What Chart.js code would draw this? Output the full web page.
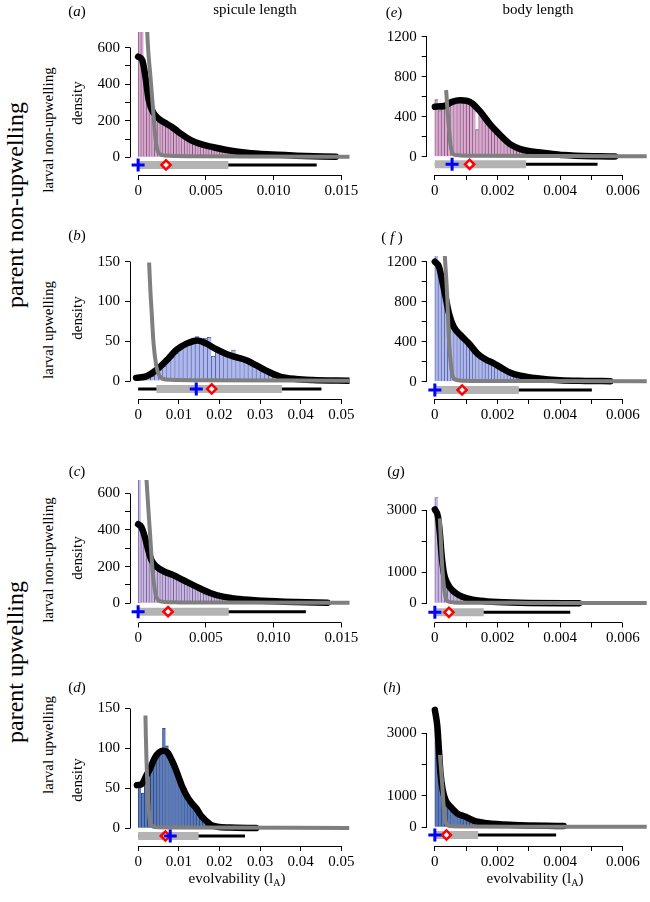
<!DOCTYPE html>
<html>
<head>
<meta charset="utf-8">
<script src="https://cdn.jsdelivr.net/npm/chart.js@4.4.1/dist/chart.umd.min.js"></script>
<style>
html,body{margin:0;padding:0;background:#fff}
body{width:650px;height:902px;position:relative;overflow:hidden;font-family:"Liberation Serif","Times New Roman",serif;color:#000}
canvas{position:absolute}
.t{position:absolute;white-space:nowrap;transform:translate(-50%,-50%);line-height:1;font-size:15px;z-index:2}
.r{transform:translate(-50%,-50%) rotate(-90deg)}
.big{font-size:24px}
sub{font-size:10px;vertical-align:-3px}
</style>
</head>
<body>
<div class="t" style="left:255px;top:9px">spicule length</div>
<div class="t" style="left:538px;top:9px">body length</div>

<div class="t" style="left:77px;top:11px">(<i>a</i>)</div>
<div class="t" style="left:77px;top:235px">(<i>b</i>)</div>
<div class="t" style="left:77px;top:471px">(<i>c</i>)</div>
<div class="t" style="left:77px;top:687px">(<i>d</i>)</div>
<div class="t" style="left:394px;top:12px">(<i>e</i>)</div>
<div class="t" style="left:392px;top:237px">( <i>f</i> )</div>
<div class="t" style="left:396px;top:471px">(<i>g</i>)</div>
<div class="t" style="left:392px;top:687px">(<i>h</i>)</div>

<div class="t r" style="left:77px;top:103px">density</div>
<div class="t r" style="left:77px;top:318px">density</div>
<div class="t r" style="left:77px;top:558px">density</div>
<div class="t r" style="left:77px;top:780px">density</div>

<div class="t r" style="left:48px;top:130px">larval non-upwelling</div>
<div class="t r" style="left:48px;top:330px">larval upwelling</div>
<div class="t r" style="left:48px;top:560px">larval non-upwelling</div>
<div class="t r" style="left:48px;top:745px">larval upwelling</div>

<div class="t r big" style="left:15px;top:205px">parent non-upwelling</div>
<div class="t r big" style="left:15px;top:662px">parent upwelling</div>

<div class="t" style="left:237px;top:879px">evolvability (l<sub>A</sub>)</div>
<div class="t" style="left:535px;top:879px">evolvability (l<sub>A</sub>)</div>

<canvas id="ca"></canvas><canvas id="cb"></canvas><canvas id="cc"></canvas><canvas id="cd"></canvas>
<canvas id="ce"></canvas><canvas id="cf"></canvas><canvas id="cg"></canvas><canvas id="ch"></canvas>

<script>
// ---------- tick values and labels ----------
const xTicksSpicA = [0, 0.005, 0.01, 0.015];
const xLabelsSpicA = ['0', '0.005', '0.010', '0.015'];
const xTicksSpicB = [0, 0.01, 0.02, 0.03, 0.04, 0.05];
const xLabelsSpicB = ['0', '0.01', '0.02', '0.03', '0.04', '0.05'];
const xTicksBody = [0, 0.001, 0.002, 0.003, 0.004, 0.005, 0.006];
const xLabelsBody = ['0', '', '0.002', '', '0.004', '', '0.006'];
const yTicks600 = [0, 100, 200, 300, 400, 500, 600];
const yLabels600 = ['0', '', '200', '', '400', '', '600'];
const yTicks150 = [0, 50, 100, 150];
const yLabels150 = ['0', '50', '100', '150'];
const yTicks1200 = [0, 200, 400, 600, 800, 1000, 1200];
const yLabels1200 = ['0', '', '400', '', '800', '', '1200'];
const yTicks3000 = [0, 1000, 2000, 3000];
const yLabels3000 = ['0', '1000', '', '3000'];

// ---------- panel (a) ----------
const a_bin = 0.0002;
const a_hist = [760,720,420,320,260,220,205,195,185,178,170,175,160,150,140,128,118,108,100,92,85,78,72,66,61,60,54,50,46,43,40,37,34,31,29,27,25,23,21,20,18,17,16,15,14,13,12,11,10,10,9,8,8,7,7,6,6,5,5,5,4,4,4,3,3,3,2,2,2,2,1,1,1];
const a_dens = [[0,551],[0.0003,533],[0.00054,441],[0.00078,314],[0.00115,241],[0.00164,204],[0.00213,182],[0.00262,159],[0.00311,131],[0.00385,95],[0.00458,73],[0.00556,55],[0.00654,40],[0.008,25],[0.0095,16],[0.0117,9],[0.0146,3]];
const a_prior = [[0.00055,950],[0.0007,640],[0.0009,450],[0.0011,265],[0.00125,125],[0.0014,45],[0.0016,18],[0.002,10],[0.004,6],[0.008,4],[0.016,3]];
const a_grey = [0, 0.00666];
const a_black = [0, 0.01318];
const a_blue = 0;
const a_red = 0.00206;
const a_rowY = -42;

// ---------- panel (b) ----------
const b_bin = 0.001;
const b_hist = [1,2,4,6,10,14,19,25,30,35,40,44,47,50,56,52,54,55,31,42,40,37,35,39,31,29,27,25,22,18,15,12,10,7,5,4,3,2,1.5,1,1,0.7,0.5,0.4,0.3,0.2];
const b_dens = [[-0.0005,4],[0.00205,6],[0.0045,14],[0.007,26],[0.0094,39],[0.0119,47],[0.0147,51],[0.0168,47],[0.0192,40],[0.0217,34],[0.0241,30],[0.0266,26],[0.029,20],[0.0315,13],[0.0347,6],[0.0388,2.5],[0.0429,1.2],[0.052,0.4]];
const b_prior = [[0.0027,149],[0.003,115],[0.0033,89],[0.0038,47],[0.0045,18],[0.0052,7],[0.006,3],[0.008,1.5],[0.015,1],[0.052,0.5]];
const b_grey = [0.0045, 0.0354];
const b_black = [0, 0.0451];
const b_blue = 0.0143;
const b_red = 0.0181;
const b_rowY = -10;

// ---------- panel (c) ----------
const c_bin = 0.0002;
const c_hist = [720,410,350,300,255,225,200,185,178,168,160,152,146,140,133,125,118,110,103,96,89,82,76,70,64,58,53,48,44,40,36,33,30,27,25,23,21,20,18,17,16,15,14,13,12,11,10,10,9,8,8,7,7,6,6,5,5,5,4,4,4,3,3,3,2,2,2,2,1,1];
const c_dens = [[0,431],[0.00025,415],[0.00049,363],[0.00074,291],[0.00098,236],[0.00135,200],[0.00196,172],[0.00257,154],[0.00331,127],[0.00429,91],[0.00527,58],[0.00625,36],[0.00748,23],[0.00919,14],[0.01165,7],[0.01397,3]];
const c_prior = [[0.00058,720],[0.00075,520],[0.00086,400],[0.00106,182],[0.0012,90],[0.0013,45],[0.0015,16],[0.0018,9],[0.003,5],[0.006,4],[0.016,3]];
const c_grey = [0, 0.00669];
const c_black = [0, 0.01238];
const c_blue = 0;
const c_red = 0.00221;
const c_rowY = -46;

// ---------- panel (d) ----------
const d_bin = 0.00075;
const d_hist = [52,44,60,72,83,90,93,96,125,103,88,80,70,60,52,50,42,36,31,26,21,16,11,7,5,3,2,1.5,1,0.7,0.5,0.4,0.3,0.2];
const d_dens = [[-0.0003,54],[0.0008,55],[0.002,66],[0.0029,74],[0.0041,88],[0.0052,95],[0.0062,97],[0.0072,95],[0.0082,86],[0.009,77],[0.0099,65],[0.0107,54],[0.0118,42],[0.0131,32],[0.0143,25],[0.0156,15],[0.0168,9],[0.018,4],[0.0195,2],[0.0225,1],[0.029,0.3]];
const d_prior = [[0.0018,141],[0.0019,115],[0.00206,85],[0.00245,35],[0.0028,13],[0.00304,6],[0.0035,3],[0.0041,1.5],[0.008,1],[0.052,0.5]];
const d_grey = [0, 0.01488];
const d_black = [0, 0.0263];
const d_blue = 0.0079;
const d_red = 0.0067;
const d_rowY = -9.6;

// ---------- panel (e) ----------
const e_bin = 0.0001;
const e_hist = [570,460,490,520,530,540,548,552,545,538,530,555,510,270,420,400,360,320,290,260,235,205,175,150,130,110,95,82,95,65,58,50,44,40,36,32,28,25,22,19,17,15,13,12,10,9,8,7,6,5,5,4,3,3,2,2,1,1];
const e_dens = [[0,500],[0.0003,507],[0.00055,548],[0.0008,565],[0.00103,558],[0.00119,534],[0.00145,450],[0.00177,320],[0.00209,215],[0.0024,125],[0.00273,76],[0.0031,52],[0.0035,38],[0.0041,17],[0.0052,4],[0.00575,2]];
const e_prior = [[0.00036,667],[0.0004,480],[0.00045,290],[0.0005,120],[0.00055,45],[0.0006,22],[0.0008,13],[0.0015,9],[0.004,6],[0.0068,5]];
const e_grey = [0, 0.00291];
const e_black = [0, 0.00519];
const e_blue = 0.00055;
const e_red = 0.00111;
const e_rowY = -76;

// ---------- panel (f) ----------
const f_bin = 0.0001;
const f_hist = [1300,1100,950,800,680,590,520,470,440,410,380,350,320,290,260,240,215,200,185,165,150,135,115,100,88,78,68,60,52,45,40,35,30,27,24,21,18,16,14,12,10,9,8,7,6,5,5,4,4,3,3,2,2,2,1,1];
const f_dens = [[0,1200],[0.00013,1150],[0.00023,1017],[0.00034,850],[0.00045,684],[0.0006,550],[0.00082,467],[0.00108,384],[0.00135,284],[0.00161,224],[0.00188,184],[0.00215,134],[0.00241,90],[0.00273,60],[0.00326,34],[0.004,14],[0.0048,8],[0.0056,5]];
const f_prior = [[0.00031,1300],[0.0004,817],[0.00045,417],[0.00052,150],[0.0006,34],[0.0008,12],[0.0012,8],[0.003,6],[0.0068,5]];
const f_grey = [0, 0.00268];
const f_black = [0, 0.00501];
const f_blue = 0;
const f_red = 0.00087;
const f_rowY = -83;

// ---------- panel (g) ----------
const g_bin = 0.0001;
const g_hist = [3400,2300,1000,700,540,440,360,300,250,210,175,150,128,110,95,82,70,60,52,45,39,34,29,25,22,19,16,14,12,11,10,9,8,7,6,5,5,4,4,3,3,2,2,2,1,1];
const g_dens = [[0,3020],[0.0001,2785],[0.00016,2250],[0.00021,1608],[0.00029,965],[0.0004,643],[0.00055,428],[0.00076,267],[0.00103,161],[0.00146,84],[0.00199,42],[0.003,12],[0.0046,4]];
const g_prior = [[0.00016,2733],[0.00021,1608],[0.00027,750],[0.00034,212],[0.00045,51],[0.0006,30],[0.001,20],[0.003,14],[0.0068,10]];
const g_grey = [0, 0.00156];
const g_black = [0, 0.00432];
const g_blue = 0;
const g_red = 0.00045;
const g_rowY = -290;

// ---------- panel (h) ----------
const h_bin = 0.0001;
const h_hist = [3500,2000,1150,850,720,600,510,440,390,340,290,240,200,170,145,125,110,98,88,80,74,68,63,58,54,50,47,45,43,41,39,37,35,33,31,29,27,25,23,21,19];
const h_dens = [[0,3748],[0.00008,3214],[0.00013,2470],[0.00018,1725],[0.00025,1192],[0.00034,872],[0.0005,658],[0.00071,447],[0.00098,339],[0.00124,211],[0.00167,128],[0.00252,73],[0.00411,42]];
const h_prior = [[0.00016,2310],[0.00024,1297],[0.00029,553],[0.00036,128],[0.0005,40],[0.001,25],[0.003,20],[0.0068,18]];
const h_grey = [0, 0.00138];
const h_black = [0, 0.00387];
const h_blue = 0;
const h_red = 0.00037;
const h_rowY = -246;

// ---------- colours ----------
const histFill = ['#dba6d0', '#aeb8f0', '#cbb6e6', '#5a7dc2'];
const histEdge = ['#6a4a66', '#4a5488', '#5a4e78', '#25375e'];

// ---------- layout ----------
const rowTop = [32, 256, 480, 704];
const rowBot = [175, 399, 622.5, 846];
const colLeft = [130, 426.7];
const colRight = [349.5, 646.7];
const canvasLeft = [80, 376];
const canvasWidth = [280, 274];
const T = 28, CH = 211;

const panels = [
  {id:'a', col:0, row:0, bin:a_bin, hist:a_hist, dens:a_dens, prior:a_prior, grey:a_grey, black:a_black, blue:a_blue, red:a_red, rowY:a_rowY, xr:[-0.0006,0.0156], yr:[-97,686], xt:xTicksSpicA, xl:xLabelsSpicA, yt:yTicks600, yl:yLabels600},
  {id:'b', col:0, row:1, bin:b_bin, hist:b_hist, dens:b_dens, prior:b_prior, grey:b_grey, black:b_black, blue:b_blue, red:b_red, rowY:b_rowY, xr:[-0.002,0.052], yr:[-22.6,157.2], xt:xTicksSpicB, xl:xLabelsSpicB, yt:yTicks150, yl:yLabels150},
  {id:'c', col:0, row:2, bin:c_bin, hist:c_hist, dens:c_dens, prior:c_prior, grey:c_grey, black:c_black, blue:c_blue, red:c_red, rowY:c_rowY, xr:[-0.0006,0.0156], yr:[-104.7,672.5], xt:xTicksSpicA, xl:xLabelsSpicA, yt:yTicks600, yl:yLabels600},
  {id:'d', col:0, row:3, bin:d_bin, hist:d_hist, dens:d_dens, prior:d_prior, grey:d_grey, black:d_black, blue:d_blue, red:d_red, rowY:d_rowY, xr:[-0.002,0.052], yr:[-22.1,155.4], xt:xTicksSpicB, xl:xLabelsSpicB, yt:yTicks150, yl:yLabels150},
  {id:'e', col:1, row:0, bin:e_bin, hist:e_hist, dens:e_dens, prior:e_prior, grey:e_grey, black:e_black, blue:e_blue, red:e_red, rowY:e_rowY, xr:[-0.00026,0.00676], yr:[-183,1247], xt:xTicksBody, xl:xLabelsBody, yt:yTicks1200, yl:yLabels1200},
  {id:'f', col:1, row:1, bin:f_bin, hist:f_hist, dens:f_dens, prior:f_prior, grey:f_grey, black:f_black, blue:f_blue, red:f_red, rowY:f_rowY, xr:[-0.00026,0.00676], yr:[-173,1257], xt:xTicksBody, xl:xLabelsBody, yt:yTicks1200, yl:yLabels1200},
  {id:'g', col:1, row:2, bin:g_bin, hist:g_hist, dens:g_dens, prior:g_prior, grey:g_grey, black:g_black, blue:g_blue, red:g_red, rowY:g_rowY, xr:[-0.00026,0.00676], yr:[-617,3965], xt:xTicksBody, xl:xLabelsBody, yt:yTicks3000, yl:yLabels3000},
  {id:'h', col:1, row:3, bin:h_bin, hist:h_hist, dens:h_dens, prior:h_prior, grey:h_grey, black:h_black, blue:h_blue, red:h_red, rowY:h_rowY, xr:[-0.00026,0.00676], yr:[-597,3935], xt:xTicksBody, xl:xLabelsBody, yt:yTicks3000, yl:yLabels3000}
];

Chart.defaults.font.family = '"Liberation Serif","Times New Roman",serif';
Chart.defaults.font.size = 15;
Chart.defaults.color = '#000';

function align(px) { return Math.round(px - 0.5) + 0.5; }

function makeAxisPlugin(xt, yt) {
  return {
    id: 'rAxes',
    afterDraw(chart) {
      const {ctx, chartArea: ar, scales: {x, y}} = chart;
      ctx.save();
      ctx.strokeStyle = '#000';
      ctx.lineWidth = 1;
      ctx.beginPath();
      const lx = align(ar.left);
      ctx.moveTo(lx, align(y.getPixelForValue(yt[0])));
      ctx.lineTo(lx, align(y.getPixelForValue(yt[yt.length - 1])));
      const by = align(ar.bottom);
      ctx.moveTo(align(x.getPixelForValue(xt[0])), by);
      ctx.lineTo(align(x.getPixelForValue(xt[xt.length - 1])), by);
      ctx.stroke();
      ctx.restore();
    }
  };
}

function pts(arr) { return arr.map(([x, y]) => ({x, y})); }

panels.forEach(p => {
  const cv = document.getElementById('c' + p.id);
  const cl = canvasLeft[p.col], cw = canvasWidth[p.col];
  const ct = rowTop[p.row] - T;
  cv.width = cw; cv.height = CH;
  cv.style.left = cl + 'px'; cv.style.top = ct + 'px';
  const W = colLeft[p.col] - cl;
  const R = cw - (colRight[p.col] - cl);
  const H = CH - T - (rowBot[p.row] - rowTop[p.row]);
  const histData = p.hist.map((v, i) => ({x: p.bin * (i + 0.5), y: v}));
  new Chart(cv, {
    type: 'bar',
    data: {
      datasets: [
        {type: 'line', data: [{x: p.blue, y: p.rowY}], showLine: false, pointStyle: 'cross', pointRadius: 6.5, pointBorderWidth: 3, borderColor: '#0000ff', pointBorderColor: '#0000ff', order: 0, clip: false},
        {type: 'line', data: [{x: p.red, y: p.rowY}], showLine: false, pointStyle: 'rectRot', pointRadius: 4.6, pointBorderWidth: 2.5, borderColor: '#ff0000', pointBorderColor: '#ff0000', pointBackgroundColor: '#ffffff', backgroundColor: '#ffffff', order: 1, clip: false},
        {type: 'line', data: p.grey.map(v => ({x: v, y: p.rowY})), borderColor: '#b3b3b3', borderWidth: 8, borderCapStyle: 'butt', pointRadius: 0, order: 2, clip: false},
        {type: 'line', data: p.black.map(v => ({x: v, y: p.rowY})), borderColor: '#000000', borderWidth: 3, borderCapStyle: 'butt', pointRadius: 0, order: 3, clip: false},
        {type: 'line', data: pts(p.prior), borderColor: '#7f7f7f', borderWidth: 4, pointRadius: 0, cubicInterpolationMode: 'monotone', borderCapStyle: 'butt', order: 4, clip: 0},
        {type: 'line', data: pts(p.dens), borderColor: '#000000', borderWidth: 6.5, pointRadius: 0, cubicInterpolationMode: 'monotone', borderCapStyle: 'round', borderJoinStyle: 'round', order: 5, clip: 0},
        {type: 'bar', data: histData, backgroundColor: histFill[p.row], borderColor: histEdge[p.row], borderWidth: {left: 0.8, top: 0.8, right: 0, bottom: 0}, barPercentage: 1, categoryPercentage: 1, order: 6, clip: 0}
      ]
    },
    options: {
      responsive: false, animation: false, devicePixelRatio: 1, events: [],
      layout: {autoPadding: false, padding: {left: 0, right: R, top: T, bottom: 0}},
      plugins: {legend: {display: false}, tooltip: {enabled: false}},
      scales: {
        x: {
          type: 'linear', min: p.xr[0], max: p.xr[1], bounds: 'data', offset: false,
          grid: {offset: false, drawOnChartArea: false, drawTicks: true, tickLength: 5, color: '#000', lineWidth: 1},
          border: {display: false},
          ticks: {autoSkip: false, maxRotation: 0, minRotation: 0, padding: 2, callback: (v, i) => p.xl[i]},
          afterBuildTicks: s => { s.ticks = p.xt.map(v => ({value: v})); },
          afterFit: s => { s.height = H; s.paddingLeft = 0; s.paddingRight = 0; }
        },
        y: {
          type: 'linear', min: p.yr[0], max: p.yr[1], bounds: 'data',
          grid: {drawOnChartArea: false, drawTicks: true, tickLength: 5, color: '#000', lineWidth: 1},
          border: {display: false},
          ticks: {autoSkip: false, padding: 5, callback: (v, i) => p.yl[i]},
          afterBuildTicks: s => { s.ticks = p.yt.map(v => ({value: v})); },
          afterFit: s => { s.width = W; s.paddingTop = 0; s.paddingBottom = 0; }
        }
      }
    },
    plugins: [makeAxisPlugin(p.xt, p.yt)]
  });
});
</script>
</body>
</html>
